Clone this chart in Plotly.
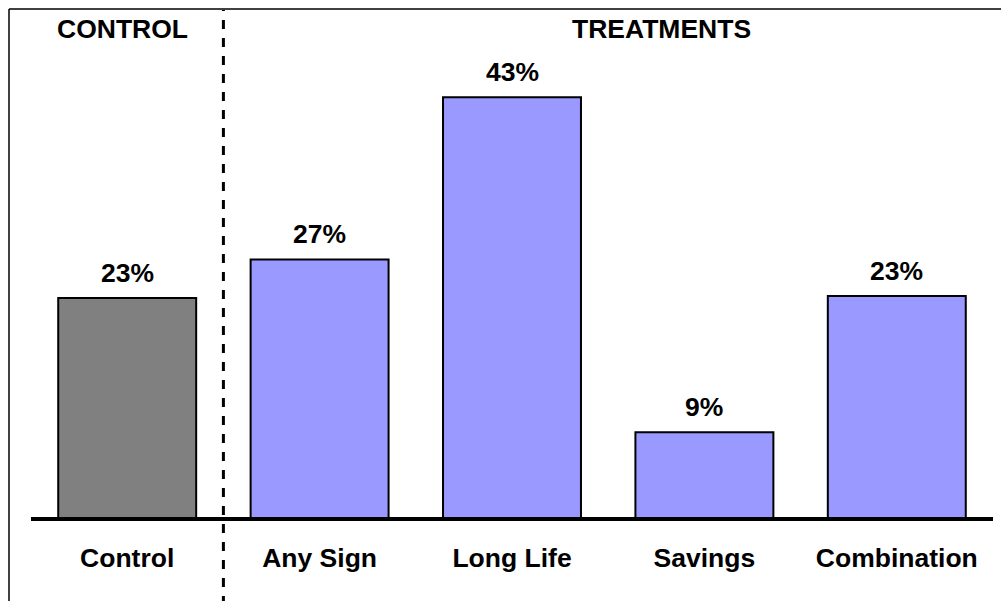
import plotly.graph_objects as go

categories = ["Control", "Any Sign", "Long Life", "Savings", "Combination"]
values = [0.229, 0.269, 0.437, 0.090, 0.231]
labels = ["23%", "27%", "43%", "9%", "23%"]
colors = ["#808080", "#9999FF", "#9999FF", "#9999FF", "#9999FF"]
groups = ["CONTROL", "TREATMENTS"]

FONT = "Arial, 'Liberation Sans', sans-serif"
W, H = 1001, 601
ML, MR, MT, MB = 31, 8, 0, 82
PH = H - MT - MB
PW = W - ML - MR

xs = list(range(len(categories)))

fig = go.Figure()
fig.add_trace(go.Bar(
    x=xs, y=values, width=0.717,
    marker=dict(color=colors, line=dict(color="black", width=2)),
    hoverinfo="skip", showlegend=False,
))

for x, v, t in zip(xs, values, labels):
    fig.add_annotation(x=x, y=v, text=f"<b>{t}</b>", showarrow=False,
                       yanchor="bottom", yshift=8,
                       font=dict(family=FONT, size=26.5, color="black"))

def px_x(p):
    return (p - ML) / PW

def px_y(p):
    return (H - MB - p) / PH

fig.add_annotation(xref="paper", yref="paper", x=px_x(122), y=px_y(29),
                   text=f"<b>{groups[0]}</b>", showarrow=False,
                   xanchor="center", yanchor="middle",
                   font=dict(family=FONT, size=26.5, color="black"))
fig.add_annotation(xref="paper", yref="paper", x=px_x(661), y=px_y(29),
                   text=f"<b>{groups[1]}</b>", showarrow=False,
                   xanchor="center", yanchor="middle",
                   font=dict(family=FONT, size=26.5, color="black"))

# outer border (left & top)
fig.add_shape(type="line", xref="paper", yref="paper",
              x0=px_x(9), x1=px_x(9), y0=px_y(610), y1=px_y(9),
              line=dict(color="black", width=1.5))
fig.add_shape(type="line", xref="paper", yref="paper",
              x0=px_x(9), x1=px_x(1010), y0=px_y(9), y1=px_y(9),
              line=dict(color="black", width=1.5))
# dashed separator
fig.add_shape(type="line", xref="x", yref="paper",
              x0=0.5, x1=0.5, y0=px_y(605), y1=px_y(10),
              line=dict(color="black", width=3, dash="9px,9px"))
# baseline
fig.add_shape(type="line", xref="paper", yref="paper",
              x0=0, x1=1, y0=0, y1=0,
              line=dict(color="black", width=4))

fig.update_layout(
    width=W, height=H,
    margin=dict(l=ML, r=MR, t=MT, b=MB),
    paper_bgcolor="white", plot_bgcolor="white",
    bargap=0.28,
    xaxis=dict(range=[-0.5, 4.5], tickvals=xs,
               ticktext=[f"<b>{c}</b>" for c in categories],
               showgrid=False, zeroline=False, showline=False, ticks="",
               ticklabelstandoff=20,
               tickfont=dict(family=FONT, size=26.5, color="black")),
    yaxis=dict(range=[0, PH / 965], showgrid=False, zeroline=False,
               showline=False, showticklabels=False, ticks=""),
)

fig.write_html("out.html")
